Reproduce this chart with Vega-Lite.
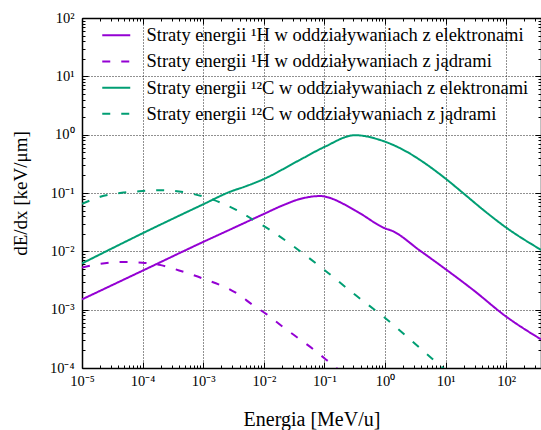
{
  "$schema": "https://vega.github.io/schema/vega-lite/v6.json",
  "width": 459,
  "height": 350,
  "autosize": {"type": "none"},
  "padding": {"left": 82, "top": 18, "right": 0, "bottom": 62},
  "background": "white",
  "config": {
    "view": {"stroke": null},
    "font": "Liberation Serif",
    "axis": {
      "domainColor": "#000",
      "domainWidth": 1.5,
      "tickColor": "#000",
      "tickWidth": 1,
      "labelColor": "#000",
      "labelFont": "Liberation Serif",
      "labelFontSize": 14.5,
      "titleFont": "Liberation Serif",
      "titleFontWeight": "normal",
      "titleColor": "#000",
      "labelOverlap": false,
      "labelFlush": false
    }
  },
  "datasets": {
    "krzywe": [
      {"E": 1e-5, "S": 0.0015, "seria": "Straty energii ¹H w oddziaływaniach z elektronami"},
      {"E": 1e-4, "S": 0.00466, "seria": "Straty energii ¹H w oddziaływaniach z elektronami"},
      {"E": 1e-3, "S": 0.0145, "seria": "Straty energii ¹H w oddziaływaniach z elektronami"},
      {"E": 3e-3, "S": 0.0245, "seria": "Straty energii ¹H w oddziaływaniach z elektronami"},
      {"E": 1e-2, "S": 0.0437, "seria": "Straty energii ¹H w oddziaływaniach z elektronami"},
      {"E": 0.021, "S": 0.062, "seria": "Straty energii ¹H w oddziaływaniach z elektronami"},
      {"E": 0.0395, "S": 0.0789, "seria": "Straty energii ¹H w oddziaływaniach z elektronami"},
      {"E": 0.0845, "S": 0.0887, "seria": "Straty energii ¹H w oddziaływaniach z elektronami"},
      {"E": 0.125, "S": 0.082, "seria": "Straty energii ¹H w oddziaływaniach z elektronami"},
      {"E": 0.2, "S": 0.066, "seria": "Straty energii ¹H w oddziaływaniach z elektronami"},
      {"E": 0.386, "S": 0.0449, "seria": "Straty energii ¹H w oddziaływaniach z elektronami"},
      {"E": 1.0, "S": 0.0248, "seria": "Straty energii ¹H w oddziaływaniach z elektronami"},
      {"E": 1.29, "S": 0.0226, "seria": "Straty energii ¹H w oddziaływaniach z elektronami"},
      {"E": 3.79, "S": 0.01026, "seria": "Straty energii ¹H w oddziaływaniach z elektronami"},
      {"E": 8.1, "S": 0.0058, "seria": "Straty energii ¹H w oddziaływaniach z elektronami"},
      {"E": 28.6, "S": 0.00217, "seria": "Straty energii ¹H w oddziaływaniach z elektronami"},
      {"E": 100, "S": 0.00076, "seria": "Straty energii ¹H w oddziaływaniach z elektronami"},
      {"E": 375, "S": 0.00031, "seria": "Straty energii ¹H w oddziaływaniach z elektronami"},

      {"E": 1e-5, "S": 0.0053, "seria": "Straty energii ¹H w oddziaływaniach z jądrami"},
      {"E": 2e-5, "S": 0.0061, "seria": "Straty energii ¹H w oddziaływaniach z jądrami"},
      {"E": 4.5e-5, "S": 0.00655, "seria": "Straty energii ¹H w oddziaływaniach z jądrami"},
      {"E": 1e-4, "S": 0.0064, "seria": "Straty energii ¹H w oddziaływaniach z jądrami"},
      {"E": 2e-4, "S": 0.0058, "seria": "Straty energii ¹H w oddziaływaniach z jądrami"},
      {"E": 4e-4, "S": 0.0047, "seria": "Straty energii ¹H w oddziaływaniach z jądrami"},
      {"E": 1e-3, "S": 0.0034, "seria": "Straty energii ¹H w oddziaływaniach z jądrami"},
      {"E": 3.6e-3, "S": 0.0019, "seria": "Straty energii ¹H w oddziaływaniach z jądrami"},
      {"E": 6.6e-3, "S": 0.0012, "seria": "Straty energii ¹H w oddziaływaniach z jądrami"},
      {"E": 0.0112, "S": 0.00083, "seria": "Straty energii ¹H w oddziaływaniach z jądrami"},
      {"E": 0.0205, "S": 0.00051, "seria": "Straty energii ¹H w oddziaływaniach z jądrami"},
      {"E": 0.0377, "S": 0.00032, "seria": "Straty energii ¹H w oddziaływaniach z jądrami"},
      {"E": 0.068, "S": 0.000204, "seria": "Straty energii ¹H w oddziaływaniach z jądrami"},
      {"E": 0.1, "S": 0.000147, "seria": "Straty energii ¹H w oddziaływaniach z jądrami"},
      {"E": 0.15, "S": 0.000105, "seria": "Straty energii ¹H w oddziaływaniach z jądrami"},
      {"E": 0.25, "S": 0.000062, "seria": "Straty energii ¹H w oddziaływaniach z jądrami"},

      {"E": 1e-5, "S": 0.0062, "seria": "Straty energii ¹²C w oddziaływaniach z elektronami"},
      {"E": 1e-4, "S": 0.0204, "seria": "Straty energii ¹²C w oddziaływaniach z elektronami"},
      {"E": 1e-3, "S": 0.064, "seria": "Straty energii ¹²C w oddziaływaniach z elektronami"},
      {"E": 2.77e-3, "S": 0.105, "seria": "Straty energii ¹²C w oddziaływaniach z elektronami"},
      {"E": 5e-3, "S": 0.13, "seria": "Straty energii ¹²C w oddziaływaniach z elektronami"},
      {"E": 9.8e-3, "S": 0.172, "seria": "Straty energii ¹²C w oddziaływaniach z elektronami"},
      {"E": 0.0395, "S": 0.37, "seria": "Straty energii ¹²C w oddziaływaniach z elektronami"},
      {"E": 0.102, "S": 0.622, "seria": "Straty energii ¹²C w oddziaływaniach z elektronami"},
      {"E": 0.32, "S": 0.98, "seria": "Straty energii ¹²C w oddziaływaniach z elektronami"},
      {"E": 0.83, "S": 0.81, "seria": "Straty energii ¹²C w oddziaływaniach z elektronami"},
      {"E": 2.28, "S": 0.51, "seria": "Straty energii ¹²C w oddziaływaniach z elektronami"},
      {"E": 3.79, "S": 0.368, "seria": "Straty energii ¹²C w oddziaływaniach z elektronami"},
      {"E": 9.8, "S": 0.179, "seria": "Straty energii ¹²C w oddziaływaniach z elektronami"},
      {"E": 19.6, "S": 0.099, "seria": "Straty energii ¹²C w oddziaływaniach z elektronami"},
      {"E": 41.9, "S": 0.0512, "seria": "Straty energii ¹²C w oddziaływaniach z elektronami"},
      {"E": 95.5, "S": 0.0264, "seria": "Straty energii ¹²C w oddziaływaniach z elektronami"},
      {"E": 375, "S": 0.0106, "seria": "Straty energii ¹²C w oddziaływaniach z elektronami"},

      {"E": 1e-5, "S": 0.065, "seria": "Straty energii ¹²C w oddziaływaniach z jądrami"},
      {"E": 2e-5, "S": 0.086, "seria": "Straty energii ¹²C w oddziaływaniach z jądrami"},
      {"E": 5e-5, "S": 0.102, "seria": "Straty energii ¹²C w oddziaływaniach z jądrami"},
      {"E": 1e-4, "S": 0.108, "seria": "Straty energii ¹²C w oddziaływaniach z jądrami"},
      {"E": 1.9e-4, "S": 0.112, "seria": "Straty energii ¹²C w oddziaływaniach z jądrami"},
      {"E": 4e-4, "S": 0.106, "seria": "Straty energii ¹²C w oddziaływaniach z jądrami"},
      {"E": 1e-3, "S": 0.087, "seria": "Straty energii ¹²C w oddziaływaniach z jądrami"},
      {"E": 3.57e-3, "S": 0.051, "seria": "Straty energii ¹²C w oddziaływaniach z jądrami"},
      {"E": 8e-3, "S": 0.031, "seria": "Straty energii ¹²C w oddziaływaniach z jądrami"},
      {"E": 0.0127, "S": 0.0232, "seria": "Straty energii ¹²C w oddziaływaniach z jądrami"},
      {"E": 0.0292, "S": 0.0127, "seria": "Straty energii ¹²C w oddziaływaniach z jądrami"},
      {"E": 0.1, "S": 0.0048, "seria": "Straty energii ¹²C w oddziaływaniach z jądrami"},
      {"E": 0.3, "S": 0.0019, "seria": "Straty energii ¹²C w oddziaływaniach z jądrami"},
      {"E": 0.94, "S": 0.00076, "seria": "Straty energii ¹²C w oddziaływaniach z jądrami"},
      {"E": 5.5, "S": 0.000156, "seria": "Straty energii ¹²C w oddziaływaniach z jądrami"},
      {"E": 8.6, "S": 0.000105, "seria": "Straty energii ¹²C w oddziaływaniach z jądrami"},
      {"E": 15, "S": 0.000055, "seria": "Straty energii ¹²C w oddziaływaniach z jądrami"}
    ]
  },
  "data": {"name": "krzywe"},
  "resolve": {"axis": {"x": "independent", "y": "independent"}},
  "layer": [
    {
      "mark": {"type": "line", "clip": true, "strokeWidth": 2, "interpolate": "monotone", "strokeCap": "butt"},
      "encoding": {
        "x": {
          "field": "E", "type": "quantitative",
          "scale": {"type": "log", "domain": [1e-5, 375], "nice": false},
          "axis": {
            "orient": "bottom",
            "values": [1e-5,2e-5,3e-5,4e-5,5e-5,6e-5,7e-5,8e-5,9e-5,1e-4,2e-4,3e-4,4e-4,5e-4,6e-4,7e-4,8e-4,9e-4,1e-3,2e-3,3e-3,4e-3,5e-3,6e-3,7e-3,8e-3,9e-3,1e-2,2e-2,3e-2,4e-2,5e-2,6e-2,7e-2,8e-2,9e-2,0.1,0.2,0.3,0.4,0.5,0.6,0.7,0.8,0.9,1,2,3,4,5,6,7,8,9,10,20,30,40,50,60,70,80,90,100,200,300],
            "title": "Energia [MeV/u]",
            "titleFontSize": 20,
            "titlePadding": 19,
            "labelPadding": 12,
            "labelExpr": "abs(log(datum.value)/LN10 - round(log(datum.value)/LN10)) < 0.01 ? '10' + (round(log(datum.value)/LN10) < 0 ? '⁻' : '') + substring('⁰¹²³⁴⁵⁶⁷⁸⁹', abs(round(log(datum.value)/LN10)), abs(round(log(datum.value)/LN10)) + 1) : ''",
            "tickSize": {"condition": {"test": "abs(log(datum.value)/LN10 - round(log(datum.value)/LN10)) < 0.01", "value": -6}, "value": -3},
            "grid": true,
            "gridColor": "#222",
            "gridDash": [1, 2],
            "gridWidth": 1,
            "gridOpacity": {"condition": {"test": "abs(log(datum.value)/LN10 - round(log(datum.value)/LN10)) < 0.01", "value": 1}, "value": 0}
          }
        },
        "y": {
          "field": "S", "type": "quantitative",
          "scale": {"type": "log", "domain": [1e-4, 100], "nice": false},
          "axis": {
            "orient": "left",
            "values": [1e-4,2e-4,3e-4,4e-4,5e-4,6e-4,7e-4,8e-4,9e-4,1e-3,2e-3,3e-3,4e-3,5e-3,6e-3,7e-3,8e-3,9e-3,1e-2,2e-2,3e-2,4e-2,5e-2,6e-2,7e-2,8e-2,9e-2,0.1,0.2,0.3,0.4,0.5,0.6,0.7,0.8,0.9,1,2,3,4,5,6,7,8,9,10,20,30,40,50,60,70,80,90,100],
            "title": "dE/dx [keV/μm]",
            "titleFontSize": 19,
            "titlePadding": 19,
            "labelPadding": 14,
            "labelExpr": "abs(log(datum.value)/LN10 - round(log(datum.value)/LN10)) < 0.01 ? '10' + (round(log(datum.value)/LN10) < 0 ? '⁻' : '') + substring('⁰¹²³⁴⁵⁶⁷⁸⁹', abs(round(log(datum.value)/LN10)), abs(round(log(datum.value)/LN10)) + 1) : ''",
            "tickSize": {"condition": {"test": "abs(log(datum.value)/LN10 - round(log(datum.value)/LN10)) < 0.01", "value": -6}, "value": -3},
            "grid": true,
            "gridColor": "#222",
            "gridDash": [1, 2],
            "gridWidth": 1,
            "gridOpacity": {"condition": {"test": "abs(log(datum.value)/LN10 - round(log(datum.value)/LN10)) < 0.01", "value": 1}, "value": 0}
          }
        },
        "color": {
          "field": "seria", "type": "nominal",
          "scale": {
            "domain": ["Straty energii ¹H w oddziaływaniach z elektronami", "Straty energii ¹H w oddziaływaniach z jądrami", "Straty energii ¹²C w oddziaływaniach z elektronami", "Straty energii ¹²C w oddziaływaniach z jądrami"],
            "range": ["#9400d3", "#9400d3", "#009e73", "#009e73"]
          },
          "legend": {
            "orient": "none", "legendX": 25, "legendY": 8, "title": null,
            "symbolType": "M-2,0H2", "symbolSize": 196, "symbolStrokeWidth": 2,
            "labelFont": "Liberation Serif", "labelFontSize": 18.5, "labelColor": "#000",
            "labelLimit": 600, "labelOffset": 21, "rowPadding": 7.2, "padding": 0
          }
        },
        "strokeDash": {
          "field": "seria", "type": "nominal",
          "scale": {
            "domain": ["Straty energii ¹H w oddziaływaniach z elektronami", "Straty energii ¹H w oddziaływaniach z jądrami", "Straty energii ¹²C w oddziaływaniach z elektronami", "Straty energii ¹²C w oddziaływaniach z jądrami"],
            "range": [[1, 0], [8, 11], [1, 0], [8, 11]]
          },
          "legend": {
            "orient": "none", "legendX": 25, "legendY": 8, "title": null,
            "symbolType": "M-2,0H2", "symbolSize": 196, "symbolStrokeWidth": 2,
            "labelFont": "Liberation Serif", "labelFontSize": 18.5, "labelColor": "#000",
            "labelLimit": 600, "labelOffset": 21, "rowPadding": 7.2, "padding": 0
          }
        }
      }
    },
    {
      "mark": {"type": "point", "opacity": 0},
      "encoding": {
        "x": {
          "field": "E", "type": "quantitative",
          "axis": {
            "orient": "top", "labels": false, "title": null, "grid": false,
            "values": [1e-5,2e-5,3e-5,4e-5,5e-5,6e-5,7e-5,8e-5,9e-5,1e-4,2e-4,3e-4,4e-4,5e-4,6e-4,7e-4,8e-4,9e-4,1e-3,2e-3,3e-3,4e-3,5e-3,6e-3,7e-3,8e-3,9e-3,1e-2,2e-2,3e-2,4e-2,5e-2,6e-2,7e-2,8e-2,9e-2,0.1,0.2,0.3,0.4,0.5,0.6,0.7,0.8,0.9,1,2,3,4,5,6,7,8,9,10,20,30,40,50,60,70,80,90,100,200,300],
            "tickSize": {"condition": {"test": "abs(log(datum.value)/LN10 - round(log(datum.value)/LN10)) < 0.01", "value": -6}, "value": -3}
          }
        },
        "y": {
          "field": "S", "type": "quantitative",
          "axis": {
            "orient": "right", "labels": false, "title": null, "grid": false,
            "values": [1e-4,2e-4,3e-4,4e-4,5e-4,6e-4,7e-4,8e-4,9e-4,1e-3,2e-3,3e-3,4e-3,5e-3,6e-3,7e-3,8e-3,9e-3,1e-2,2e-2,3e-2,4e-2,5e-2,6e-2,7e-2,8e-2,9e-2,0.1,0.2,0.3,0.4,0.5,0.6,0.7,0.8,0.9,1,2,3,4,5,6,7,8,9,10,20,30,40,50,60,70,80,90,100],
            "tickSize": {"condition": {"test": "abs(log(datum.value)/LN10 - round(log(datum.value)/LN10)) < 0.01", "value": -6}, "value": -3}
          }
        }
      }
    }
  ]
}
